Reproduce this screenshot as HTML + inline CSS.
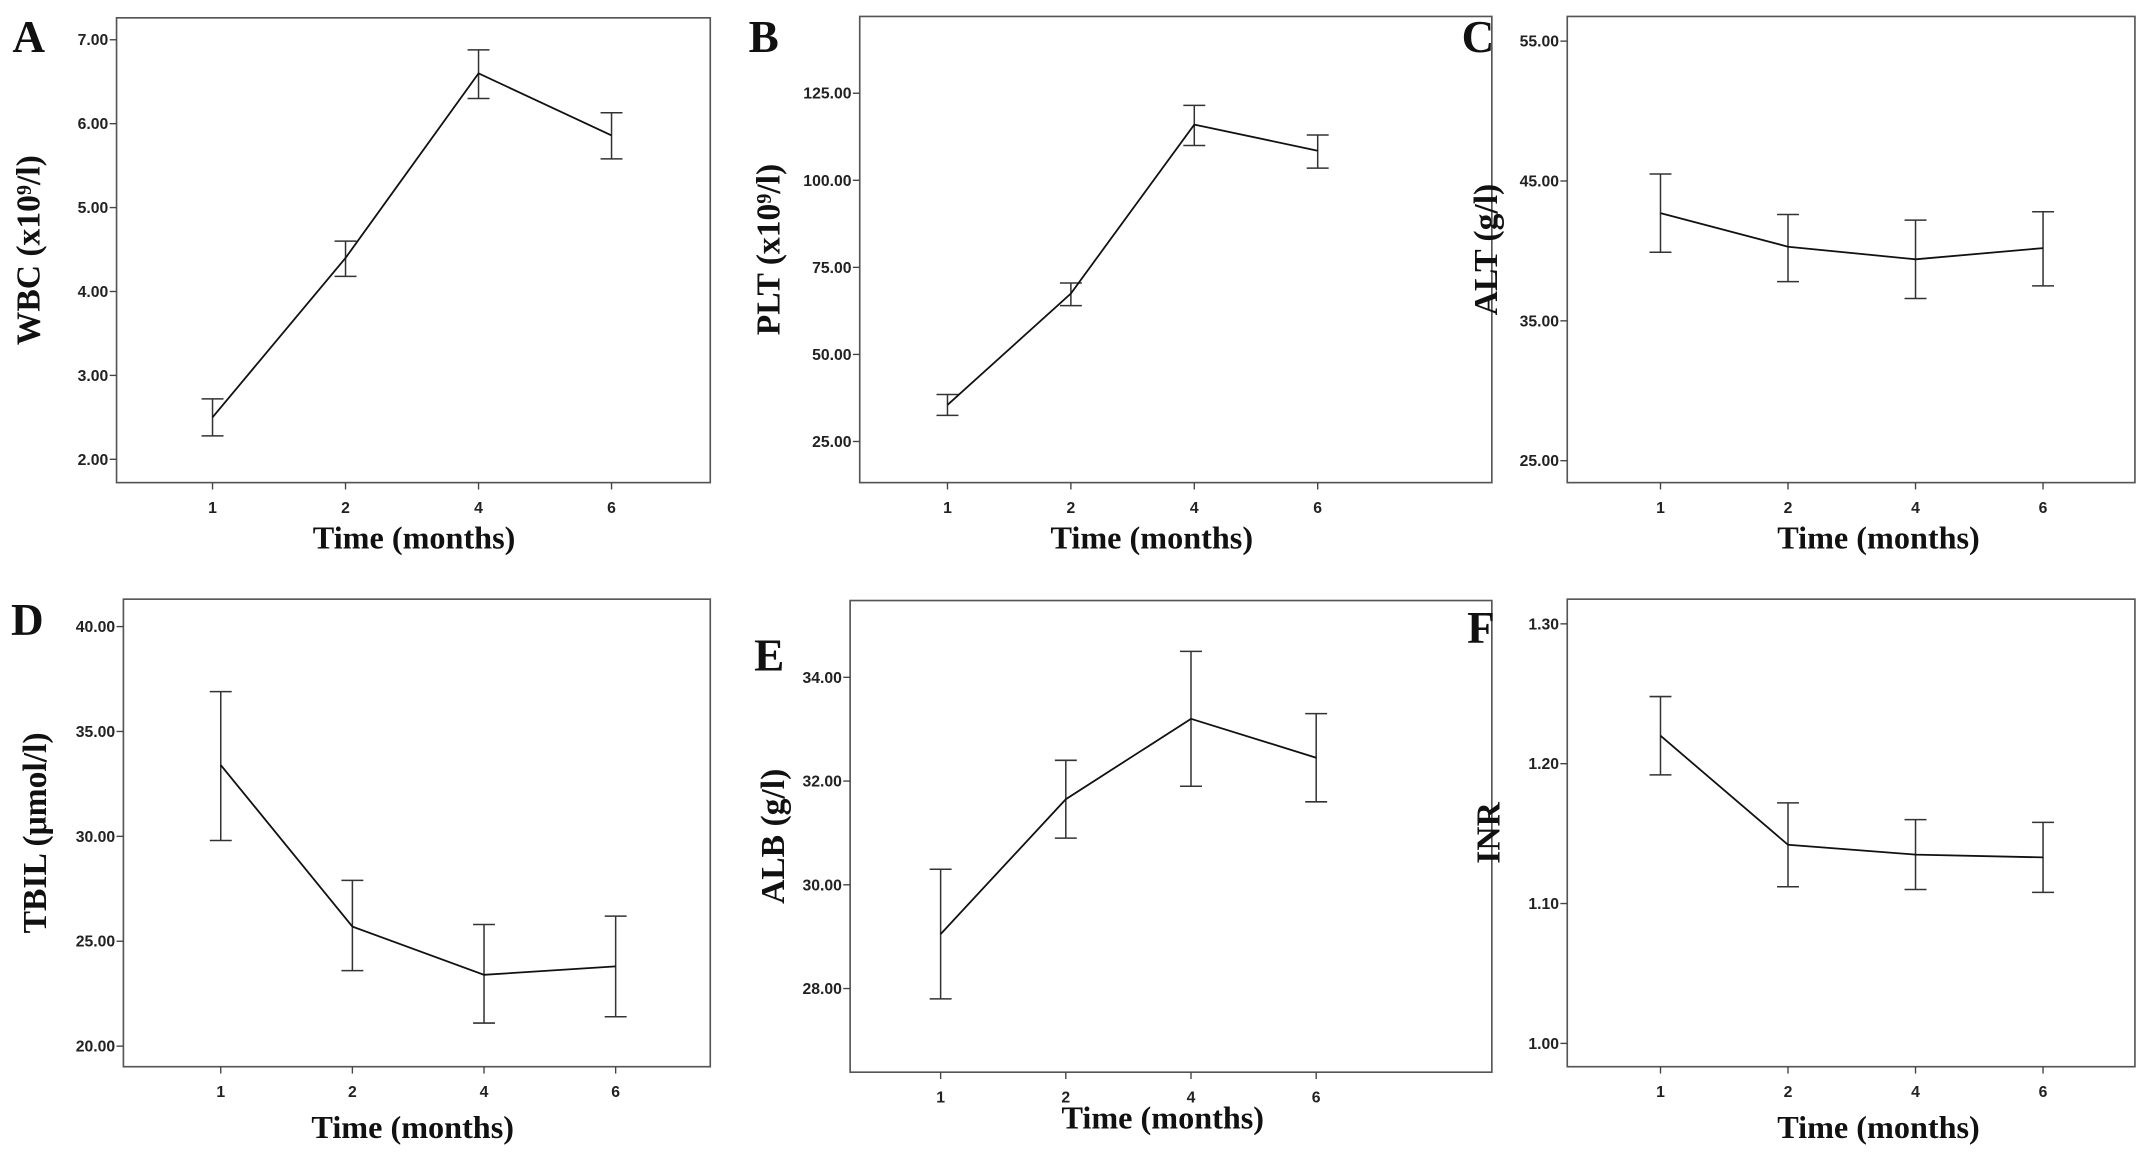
<!DOCTYPE html>
<html><head><meta charset="utf-8"><style>
html,body{margin:0;padding:0;background:#fff;}
svg{display:block}
.tk{font-family:"Liberation Sans",sans-serif;font-size:11.5px;font-weight:bold;fill:#222}
.tt{font-family:"Liberation Serif",serif;font-size:23.5px;font-weight:bold;fill:#111}
.yt{font-family:"Liberation Serif",serif;font-size:24.5px;font-weight:bold;fill:#111}
.pl{font-family:"Liberation Serif",serif;font-size:33px;font-weight:bold;fill:#111}
</style></head><body>
<svg id="fig" width="2150" height="1155" viewBox="0 0 1568 842.4" preserveAspectRatio="none" xmlns="http://www.w3.org/2000/svg"></svg>
<script>
const months = ["1","2","4","6"];
const wbcMean = [2.50, 4.40, 6.60, 5.86], wbcLo = [2.28, 4.18, 6.30, 5.58], wbcHi = [2.72, 4.60, 6.88, 6.13];
const pltMean = [35.5, 67.5, 116, 108.5], pltLo = [32.5, 64, 110, 103.5], pltHi = [38.5, 70.5, 121.5, 113];
const altMean = [42.7, 40.3, 39.4, 40.2], altLo = [39.9, 37.8, 36.6, 37.5], altHi = [45.5, 42.6, 42.2, 42.8];
const tbilMean = [33.4, 25.7, 23.4, 23.8], tbilLo = [29.8, 23.6, 21.1, 21.4], tbilHi = [36.9, 27.9, 25.8, 26.2];
const albMean = [29.05, 31.65, 33.2, 32.45], albLo = [27.8, 30.9, 31.9, 31.6], albHi = [30.3, 32.4, 34.5, 33.3];
const inrMean = [1.220, 1.142, 1.135, 1.133], inrLo = [1.192, 1.112, 1.110, 1.108], inrHi = [1.248, 1.172, 1.160, 1.158];
const wbcTicks = [2,3,4,5,6,7], pltTicks = [25,50,75,100,125], altTicks = [25,35,45,55];
const tbilTicks = [20,25,30,35,40], albTicks = [28,30,32,34], inrTicks = [1.0,1.1,1.2,1.3];

const NS = "http://www.w3.org/2000/svg";
const svg = document.getElementById('fig');
function mk(tag, attrs, parent, text){
  const e = document.createElementNS(NS, tag);
  for (const k in attrs) e.setAttribute(k, attrs[k]);
  if (text !== undefined) e.textContent = text;
  (parent || svg).appendChild(e);
  return e;
}
const panels = [
 {id:'a', letter:'A', ytitle:'WBC (x10⁹/l)', mean:wbcMean, lo:wbcLo, hi:wbcHi, ticks:wbcTicks, dec:2,
  box:[85,13,518,352], yA:[2,335], yB:[7,29], x0:155, dx:97, lx:9, ly:38, yt:21, xtc:302, xty:400},
 {id:'b', letter:'B', ytitle:'PLT (x10⁹/l)', mean:pltMean, lo:pltLo, hi:pltHi, ticks:pltTicks, dec:2,
  box:[627,12,1088,352], yA:[25,322], yB:[125,68], x0:691, dx:90, lx:546, ly:38, yt:561, xtc:840, xty:400},
 {id:'c', letter:'C', ytitle:'ALT (g/l)', mean:altMean, lo:altLo, hi:altHi, ticks:altTicks, dec:2,
  box:[1143,12,1557,352], yA:[25,336], yB:[55,30], x0:1211, dx:93, lx:1066, ly:38, yt:1084, xtc:1370, xty:400},
 {id:'d', letter:'D', ytitle:'TBIL (μmol/l)', mean:tbilMean, lo:tbilLo, hi:tbilHi, ticks:tbilTicks, dec:2,
  box:[90,437,518,778], yA:[20,763], yB:[40,457], x0:161, dx:96, lx:8, ly:463, yt:26, xtc:301, xty:830},
 {id:'e', letter:'E', ytitle:'ALB (g/l)', mean:albMean, lo:albLo, hi:albHi, ticks:albTicks, dec:2,
  box:[620,438,1088,782], yA:[28,721], yB:[34,494], x0:686, dx:91.3, lx:550, ly:489, yt:564, xtc:848, xty:823},
 {id:'f', letter:'F', ytitle:'INR', mean:inrMean, lo:inrLo, hi:inrHi, ticks:inrTicks, dec:2,
  box:[1143,437,1557,778], yA:[1.0,761], yB:[1.3,455], x0:1211, dx:93, lx:1070, ly:469, yt:1086, xtc:1370, xty:830}
];
panels.forEach(p=>{
  const g = mk('g',{});
  
  
  const [l,t,r,b] = p.box;
  const yS = v => p.yA[1] + (v - p.yA[0]) * (p.yB[1]-p.yA[1])/(p.yB[0]-p.yA[0]);
  const xS = i => p.x0 + i*p.dx;
  const box = mk('rect',{x:l,y:t,width:r-l,height:b-t,fill:'none',stroke:'#555','stroke-width':1.2},g);
  
  
  p.ticks.forEach(v=>{
    const y = yS(v);
    mk('line',{x1:l-5,x2:l,y1:y,y2:y,stroke:'#444','stroke-width':1},g);
    const tx = mk('text',{x:l-6,y:y+4,'text-anchor':'end',class:'tk'},g,v.toFixed(p.dec));
    
    
  });
  months.forEach((m,i)=>{
    const x = xS(i);
    mk('line',{x1:x,x2:x,y1:b,y2:b+5,stroke:'#444','stroke-width':1},g);
    const tx = mk('text',{x:x,y:b+22,'text-anchor':'middle',class:'tk'},g,m);
    
    
  });
  p.mean.forEach((v,i)=>{
    const x = xS(i), y1 = yS(p.lo[i]), y2 = yS(p.hi[i]);
    const eb = mk('path',{d:`M${x},${y1}V${y2}M${x-8},${y1}H${x+8}M${x-8},${y2}H${x+8}`,stroke:'#333','stroke-width':1.1,fill:'none'},g);
    
    
  });
  const pts = p.mean.map((v,i)=>xS(i)+','+yS(v)).join(' ');
  const line = mk('polyline',{points:pts,fill:'none',stroke:'#111','stroke-width':1.3},g);
  
  
  const xt = mk('text',{x:p.xtc,y:p.xty,'text-anchor':'middle',class:'tt'},g,'Time (months)');
  
  
  const cy = (t+b)/2;
  const yt = mk('text',{x:p.yt,y:cy,'text-anchor':'middle',class:'yt',transform:`rotate(-90 ${p.yt} ${cy})`,'dominant-baseline':'central'},g,p.ytitle);
  
  
  const pl = mk('text',{x:p.lx,y:p.ly,class:'pl'},g,p.letter);
  
  
});
</script>
</body></html>
